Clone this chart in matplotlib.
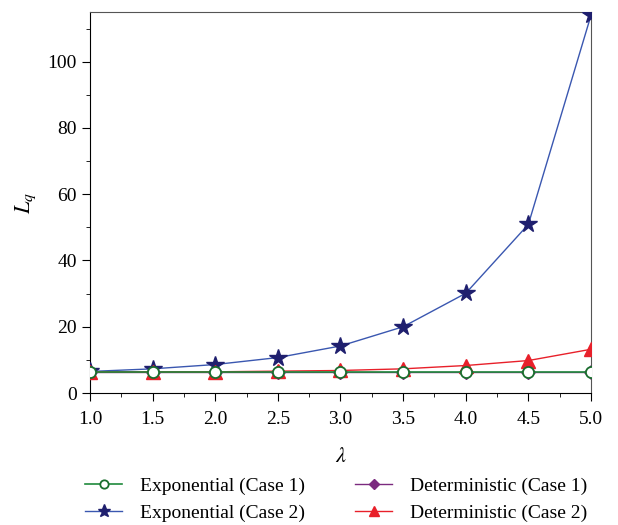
import matplotlib
matplotlib.use("Agg")
import matplotlib.pyplot as plt
from matplotlib.ticker import MultipleLocator

plt.rcParams.update({"font.family": "Liberation Serif", "mathtext.fontset": "stix",
                     "font.size": 14})

lam = [1.0, 1.5, 2.0, 2.5, 3.0, 3.5, 4.0, 4.5, 5.0]
exp_case1 = [6.4, 6.4, 6.4, 6.4, 6.4, 6.4, 6.4, 6.4, 6.4]
exp_case2 = [6.5, 7.3, 8.6, 10.7, 14.2, 20.0, 30.1, 50.9, 114.0]
det_case1 = [6.4, 6.4, 6.4, 6.4, 6.4, 6.4, 6.4, 6.4, 6.4]
det_case2 = [6.4, 6.4, 6.4, 6.6, 6.8, 7.3, 8.3, 9.8, 13.2]

fig = plt.figure(figsize=(6.18, 5.25), dpi=100)
ax = fig.add_axes([0.1456, 0.2514, 0.8107, 0.7257])

ax.plot(lam, det_case1, color="#7b2a7f", lw=1, marker="D", ms=7,
        mfc="#7b2a7f", mec="#7b2a7f", label="Deterministic (Case 1)", zorder=2)
ax.plot(lam, exp_case2, color="#3a57b0", lw=1, marker="*", ms=13,
        mfc="#1f1f6e", mec="#1f1f6e", label="Exponential (Case 2)", zorder=3)
ax.plot(lam, det_case2, color="#e8202a", lw=1, marker="^", ms=10,
        mfc="#e8202a", mec="#e8202a", label="Deterministic (Case 2)", zorder=3)
ax.plot(lam, exp_case1, color="#1f8a3c", lw=1.2, marker="o", ms=8,
        mfc="white", mec="#1a6e2e", mew=1.3, label="Exponential (Case 1)", zorder=4)

ax.set_xlim(1.0, 5.0)
ax.set_ylim(0, 115)
ax.xaxis.set_major_locator(MultipleLocator(0.5))
ax.xaxis.set_minor_locator(MultipleLocator(0.25))
ax.yaxis.set_major_locator(MultipleLocator(20))
ax.yaxis.set_minor_locator(MultipleLocator(10))
ax.tick_params(which="both", direction="out", top=False, right=False)
ax.tick_params(which="major", length=6)
ax.tick_params(which="minor", length=3)
ax.tick_params(axis="x", pad=7)
ax.set_xlabel(r"$\lambda$", fontsize=16, labelpad=14)
ax.set_ylabel(r"$L_q$", fontsize=16, labelpad=7)
for s in ("top", "right"):
    ax.spines[s].set_color("#555555")

h, l = ax.get_legend_handles_labels()
order = [3, 1, 0, 2]
fig.legend([h[i] for i in order], [l[i] for i in order], ncol=2, frameon=False,
           loc="lower left", bbox_to_anchor=(0.11, -0.028), fontsize=14,
           handlelength=1.9, handletextpad=0.9, columnspacing=2.6,
           labelspacing=0.5, markerscale=0.75)

fig.savefig("out.png", dpi=100)
